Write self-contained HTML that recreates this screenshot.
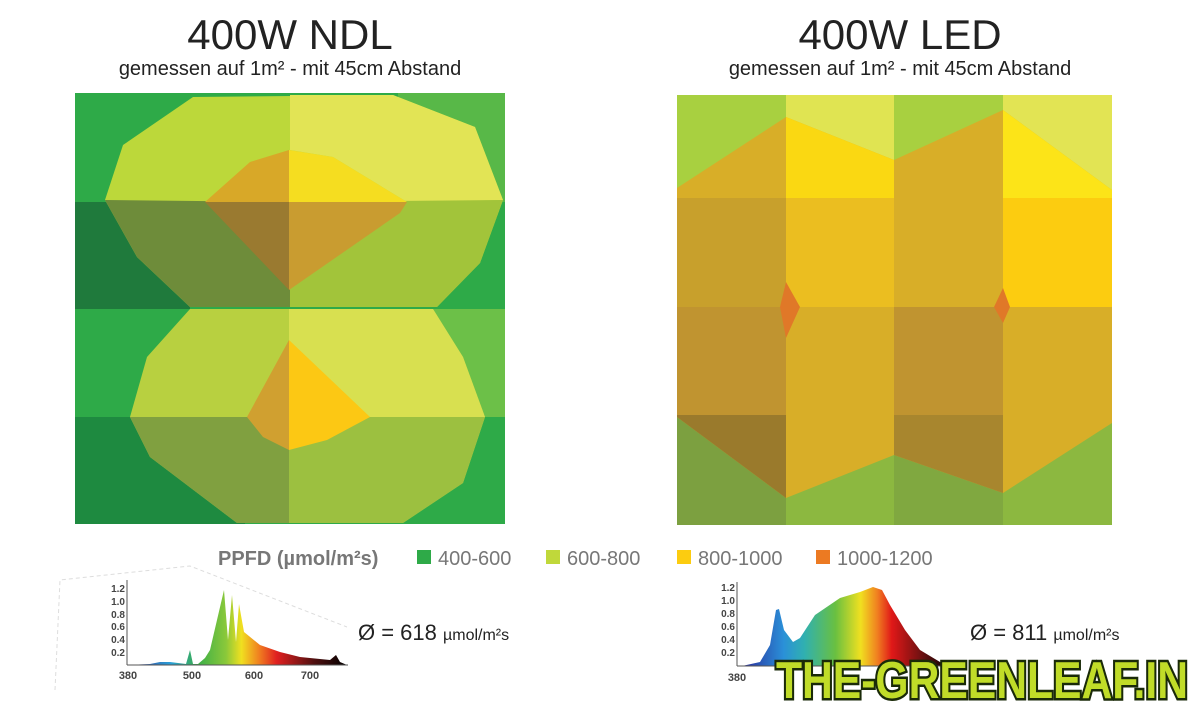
<!DOCTYPE html>
<html><head><meta charset="utf-8"><style>
body{margin:0;width:1200px;height:704px;background:#fff;overflow:hidden;font-family:"Liberation Sans",sans-serif;position:relative}
.t{position:absolute;text-align:center;color:#222}
</style></head><body>
<div class="t" style="left:90px;width:400px;top:12px;font-size:42px;line-height:46px">400W NDL</div>
<div class="t" style="left:40px;width:500px;top:58px;font-size:20px">gemessen auf 1m² - mit 45cm Abstand</div>
<div class="t" style="left:700px;width:400px;top:12px;font-size:42px;line-height:46px">400W LED</div>
<div class="t" style="left:650px;width:500px;top:58px;font-size:20px">gemessen auf 1m² - mit 45cm Abstand</div>
<svg width="1200" height="704" style="position:absolute;left:0;top:0">
<defs>
<linearGradient id="sp" x1="0" x2="1">
<stop offset="0" stop-color="#3a2a8a"/><stop offset="0.2" stop-color="#2aa0d8"/><stop offset="0.32" stop-color="#3aae48"/><stop offset="0.45" stop-color="#8ac83a"/><stop offset="0.52" stop-color="#f0e020"/><stop offset="0.6" stop-color="#f08020"/><stop offset="0.68" stop-color="#e02020"/><stop offset="0.85" stop-color="#501010"/><stop offset="1" stop-color="#000"/></linearGradient>
<linearGradient id="sp2" x1="0" x2="1">
<stop offset="0" stop-color="#2a2a9a"/><stop offset="0.2" stop-color="#2a90d8"/><stop offset="0.3" stop-color="#30b0b0"/><stop offset="0.45" stop-color="#6ac040"/><stop offset="0.57" stop-color="#f0e020"/><stop offset="0.65" stop-color="#f08020"/><stop offset="0.72" stop-color="#e01818"/><stop offset="0.88" stop-color="#601010"/><stop offset="1" stop-color="#000"/></linearGradient>
</defs>
<!-- left map -->
<rect x="75" y="93" width="430" height="431" fill="#2eaa48"/>
<rect x="75" y="202" width="115" height="107" fill="#1f7a3c"/>
<rect x="75" y="417" width="170" height="107" fill="#1e8a40"/>
<rect x="398" y="93" width="107" height="109" fill="#58b848"/>
<rect x="398" y="309" width="107" height="108" fill="#6cc048"/>
<polygon points="123,145 193,97 393,95 475,127 503,200 480,263 437,307 190,307 137,257 105,200" fill="#bcd83a"/>
<polygon points="290,95 393,95 475,127 503,200 407,202 333,157 290,150" fill="#e2e455"/>
<polygon points="105,200 290,202 290,307 190,307 137,257" fill="#6e8c3a"/>
<polygon points="290,202 503,200 480,263 437,307 290,307" fill="#a2c43a"/>
<polygon points="205,202 250,162 289,150 289,202" fill="#d8a828"/>
<polygon points="289,150 333,157 407,202 289,202" fill="#f5dd20"/>
<polygon points="205,202 289,202 289,290" fill="#9a7a30"/>
<polygon points="289,202 407,202 400,213 289,290" fill="#c99c30"/>
<polygon points="190,309 433,309 463,357 485,417 463,483 403,523 237,523 150,457 130,417 147,357" fill="#b8d040"/>
<polygon points="289,309 433,309 463,357 485,417 289,417" fill="#d8e050"/>
<polygon points="130,417 289,417 289,523 237,523 150,457" fill="#80a040"/>
<polygon points="289,417 485,417 463,483 403,523 289,523" fill="#9cc040"/>
<polygon points="289,340 370,417 327,440 289,450" fill="#fcc814"/>
<polygon points="289,340 289,450 263,437 247,417" fill="#d0a030"/>
<!-- right map -->
<rect x="677" y="95" width="435" height="430" fill="#a8d040"/>
<rect x="786" y="95" width="108" height="103" fill="#e0e452"/>
<rect x="1003" y="95" width="109" height="103" fill="#e2e454"/>
<rect x="677" y="415" width="435" height="110" fill="#8cb840"/>
<rect x="677" y="415" width="109" height="110" fill="#7ca040"/>
<rect x="894" y="415" width="109" height="110" fill="#80a840"/>
<polygon points="677,188 786,117 894,160 1003,110 1112,190 1112,423 1003,493 894,455 786,498 677,417" fill="#d8ae28"/>
<polygon points="786,117 894,160 894,198 786,198" fill="#fad812"/>
<polygon points="1003,110 1112,190 1112,198 1003,198" fill="#fce418"/>
<polygon points="1003,198 1112,198 1112,307 1003,307" fill="#fccc10"/>
<polygon points="786,198 894,198 894,307 786,307" fill="#ebbe20"/>
<polygon points="677,198 786,198 786,307 677,307" fill="#c8a02c"/>
<polygon points="677,307 786,307 786,415 677,415" fill="#c09430"/>
<polygon points="894,307 1003,307 1003,415 894,415" fill="#c09430"/>
<polygon points="677,415 786,415 786,498 677,417" fill="#9a7a2c"/>
<polygon points="894,415 1003,415 1003,493 894,455" fill="#a8862e"/>
<polygon points="786,282 800,307 786,338 780,307" fill="#e07828"/>
<polygon points="1003,288 1010,307 1003,323 994,307" fill="#e07828"/>
<!-- legend -->
<text x="218" y="565" font-size="20" font-weight="bold" fill="#777">PPFD (µmol/m²s)</text>
<rect x="417" y="550" width="14" height="14" fill="#2eaa48"/><text x="438" y="565" font-size="20" fill="#777">400-600</text>
<rect x="546" y="550" width="14" height="14" fill="#c0d83a"/><text x="567" y="565" font-size="20" fill="#777">600-800</text>
<rect x="677" y="550" width="14" height="14" fill="#fccc10"/><text x="698" y="565" font-size="20" fill="#777">800-1000</text>
<rect x="816" y="550" width="14" height="14" fill="#ec7a22"/><text x="837" y="565" font-size="20" fill="#777">1000-1200</text>
<!-- left spectrum -->
<polyline points="55,690 60,580 190,566 347,627" fill="none" stroke="#ddd" stroke-dasharray="4,3"/>
<polygon points="127,665 150,664 160,662 170,662 186,664 190,650 193,664 198,664 205,658 210,650 224,590 228,640 232,595 236,642 239,604 244,632 260,645 280,652 300,657 330,660 336,655 340,662 347,665" fill="url(#sp)"/>
<line x1="127" y1="580" x2="127" y2="665" stroke="#555"/><line x1="127" y1="665" x2="348" y2="665" stroke="#555"/>
<g font-size="10" font-weight="bold" fill="#444" text-anchor="end"><text x="125" y="592">1.2</text><text x="125" y="605">1.0</text><text x="125" y="618">0.8</text><text x="125" y="630">0.6</text><text x="125" y="643">0.4</text><text x="125" y="656">0.2</text></g>
<g font-size="11" font-weight="bold" fill="#444" text-anchor="middle"><text x="128" y="679">380</text><text x="192" y="679">500</text><text x="254" y="679">600</text><text x="310" y="679">700</text></g>
<text x="358" y="640" font-size="22" fill="#222">Ø = 618 <tspan font-size="16">µmol/m²s</tspan></text>
<!-- right spectrum -->
<polygon points="742,666 760,662 770,645 776,610 779,609 784,630 793,642 800,638 815,615 840,598 860,592 873,587 882,590 890,605 905,630 920,650 940,662 950,666" fill="url(#sp2)"/>
<line x1="737" y1="582" x2="737" y2="666" stroke="#555"/><line x1="737" y1="666" x2="950" y2="666" stroke="#555"/>
<g font-size="10" font-weight="bold" fill="#444" text-anchor="end"><text x="735" y="591">1.2</text><text x="735" y="604">1.0</text><text x="735" y="617">0.8</text><text x="735" y="630">0.6</text><text x="735" y="643">0.4</text><text x="735" y="656">0.2</text></g>
<text x="737" y="681" font-size="11" font-weight="bold" fill="#444" text-anchor="middle">380</text>
<text x="970" y="640" font-size="22" fill="#222">Ø = 811 <tspan font-size="16">µmol/m²s</tspan></text>
<text x="982" y="698" font-size="52" font-weight="bold" text-anchor="middle" fill="#c0dc28" stroke="#1a2a08" stroke-width="5" paint-order="stroke" textLength="412" lengthAdjust="spacingAndGlyphs">THE-GREENLEAF.IN</text>
</svg>
</body></html>
